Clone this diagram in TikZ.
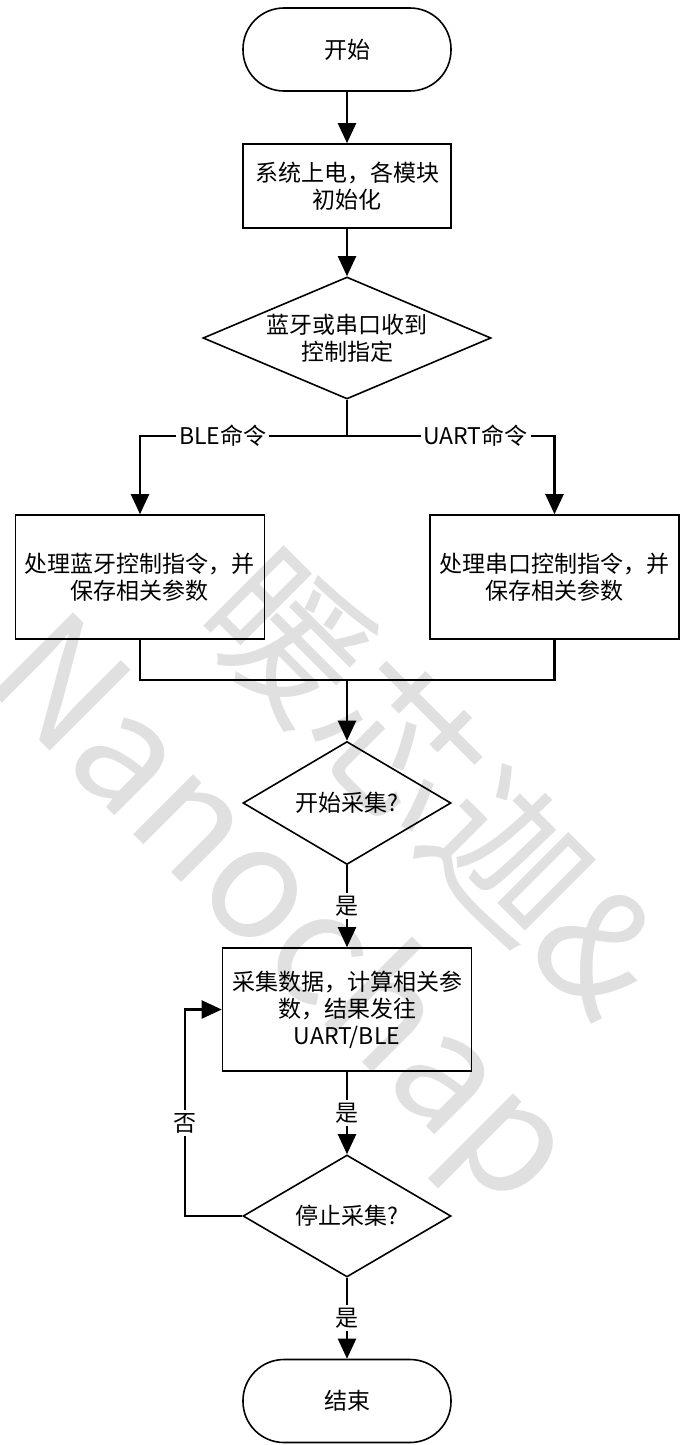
\documentclass[tikz,border=0pt]{standalone}
\usepackage{fontspec}
\setmainfont{Noto Sans CJK SC}
\usetikzlibrary{shapes.geometric,arrows.meta}

\begin{document}
\begin{tikzpicture}[node distance={68.25pt}, line width=1.1pt,
    >={Triangle[length=10pt,width=9pt]},
    font=\fontsize{11.5pt}{13.5pt}\selectfont,
    term/.style = {draw, line width=0.8pt, rounded corners=20.5pt, minimum width=104pt, minimum height=41.5pt},
    proc/.style = {draw, line width=0.8pt, minimum width=104pt, minimum height=42pt, align=center},
    decide/.style = {draw, line width=0.8pt, diamond, inner sep=0pt, align=center},
    lbl/.style = {fill=white, inner sep=1.5pt},
    wmark/.style = {text=black!12, rotate=-45, font=\fontsize{78pt}{78pt}\selectfont}]
    \useasboundingbox (0,0) rectangle (340pt,-722.5pt);
    % watermark
    \node[wmark] (wm1) at (218pt,-391.5pt) {暖芯迦\&};
    \node[wmark] (wm2) at (139pt,-458pt) {Nanochap};
    % flow
    \node[term] (start) at (173.5pt,-24.75pt) {开始};
    \node[proc] (init) [below of=start] {系统上电，各模块\\初始化};
    \node[decide, aspect=2.36, minimum width=144pt, minimum height=61pt] (ask) [below of=init, node distance=76pt] {蓝牙或串口收到\\控制指定};
    \coordinate[below of=ask, node distance=49pt] (split);
    \node[proc, minimum width=124.5pt, minimum height=62pt] (ble) [below of=ask, node distance=119.5pt, xshift=-103.5pt] {处理蓝牙控制指令，并\\保存相关参数};
    \node[proc, minimum width=124.5pt, minimum height=62pt] (uart) [below of=ask, node distance=119.5pt, xshift=103.75pt] {处理串口控制指令，并\\保存相关参数};
    \node[decide, aspect=1.69, minimum width=104pt, minimum height=61.5pt] (go) [below of=ask, node distance=232.5pt] {开始采集?};
    \coordinate[above of=go, node distance=61.5pt] (join);
    \node[proc, minimum width=124.5pt, minimum height=61.5pt] (acq) [below of=go, node distance=103.25pt] {采集数据，计算相关参\\数，结果发往\\UART/BLE};
    \node[decide, aspect=1.69, minimum width=104pt, minimum height=61pt] (stop) [below of=acq, node distance=103.25pt] {停止采集?};
    \node[term] (finish) [below of=stop, node distance=92.5pt] {结束};
    \draw[->] (start) -- (init);
    \draw[->] (init) -- (ask);
    \draw (ask) -- (split);
    \draw[->] (split) -| node[lbl, pos=0.3] {BLE命令} (ble);
    \draw[->] (split) -| node[lbl, pos=0.31] {UART命令} (uart);
    \draw (ble) |- (join);
    \draw (uart) |- (join);
    \draw[->] (join) -- (go);
    \draw[->] (go) -- node[lbl] {是} (acq);
    \draw[->] (acq) -- node[lbl] {是} (stop);
    \draw[->] (stop) -- node[lbl] {是} (finish);
    \draw[->] (stop.west) -- ++(-28.5pt,0) |- node[lbl, pos=0.225] {否} (acq.west);
\end{tikzpicture}
\end{document}
